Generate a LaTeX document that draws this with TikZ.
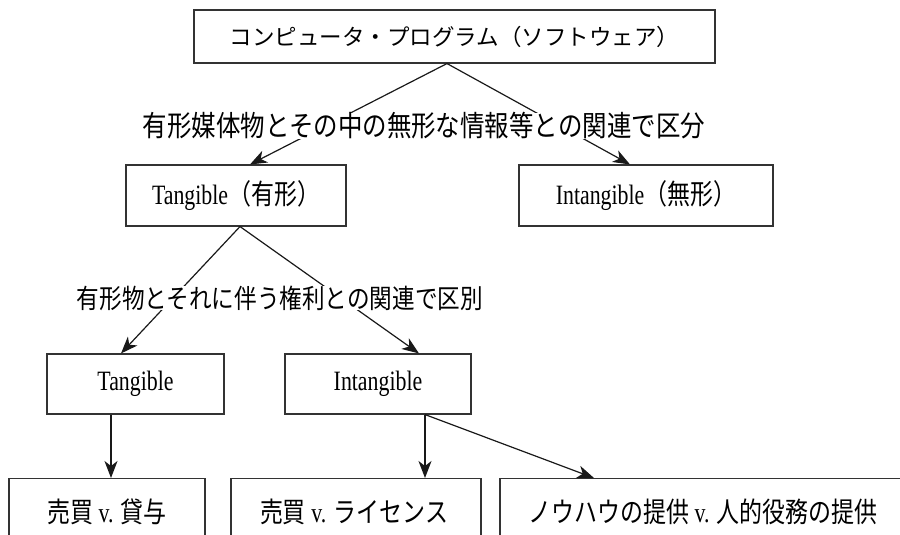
\documentclass[tikz,border=0pt]{standalone}
\usepackage{fontspec}
\setmainfont{Liberation Serif}[FakeStretch=0.78]
\newfontfamily\jp{Noto Sans CJK JP}[FakeStretch=0.82]
\newfontfamily\jpl{Noto Sans CJK JP}[FakeStretch=0.85]
\newfontfamily\jpw{Noto Sans CJK JP}
\usetikzlibrary{arrows.meta}
\begin{document}
\begin{tikzpicture}[x=1pt,y=-1pt,
  box/.style={draw=black!80, line width=1.1pt, inner sep=0pt},
  conn/.style={draw=black!90, line width=1.2pt, -{Stealth[length=17pt,width=13pt,inset=5pt]}},
  lbl/.style={fill=white, inner sep=0pt},
  bt/.style={font=\fontsize{28}{32}\selectfont}]
\useasboundingbox (0,0) rectangle (900,535);
\clip (0,0) rectangle (900,535);
% boxes
\node[box, minimum width=521pt, minimum height=53pt, font=\jpw\fontsize{22.5}{27}\selectfont] (top) at (454.5,36.5) {コンピュータ・プログラム（ソフトウェア）};
\node[box, bt, minimum width=220pt, minimum height=61pt] (tan1) at (236,195.5) {Tangible{\jp （有形）}};
\node[box, bt, minimum width=254pt, minimum height=61pt] (int1) at (646,195.5) {Intangible{\jp （無形）}};
\node[box, bt, minimum width=177pt, minimum height=60pt] (tan2) at (135.5,384) {Tangible};
\node[box, bt, minimum width=186pt, minimum height=60pt] (int2) at (378,384) {Intangible};
\node[box, anchor=north, minimum width=196pt, minimum height=120pt] (b1) at (107,478) {};
\node[box, anchor=north, minimum width=250pt, minimum height=120pt] (b2) at (356,478) {};
\node[box, anchor=north, minimum width=406pt, minimum height=120pt] (b3) at (703,478) {};
\node[bt] (b1t) at (107,512) {{\jp 売買} v. {\jp 貸与}};
\node[bt] (b2t) at (354,512) {{\jp 売買} v. {\jp ライセンス}};
\node[bt] (b3t) at (703,512) {{\jp ノウハウの提供} v. {\jp 人的役務の提供}};
% connectors
\draw[conn] ([xshift=-7.5pt]top.south) -- ([xshift=14pt]tan1.north);
\draw[conn] ([xshift=-7.5pt]top.south) -- ([xshift=-16pt]int1.north);
\draw[conn] ([xshift=4pt]tan1.south) -- ([xshift=-14.5pt]tan2.north);
\draw[conn] ([xshift=4pt]tan1.south) -- ([xshift=41pt]int2.north);
\coordinate (a3) at ([xshift=-24.5pt]tan2.south);
\draw[conn] (a3) -- (a3 |- b1.north);
\coordinate (a4) at ([xshift=47pt]int2.south);
\draw[conn] (a4) -- (a4 |- b2.north);
\draw[conn] (a4) -- ([xshift=-109pt]b3.north);
% labels
\node[lbl, font=\jpl\fontsize{28.8}{32}\selectfont] (l1) at (424,126) {有形媒体物とその中の無形な情報等との関連で区分};
\node[lbl, font=\jpl\fontsize{26.6}{30}\selectfont] (l2) at (280,298) {有形物とそれに伴う権利との関連で区別};
\end{tikzpicture}
\end{document}
